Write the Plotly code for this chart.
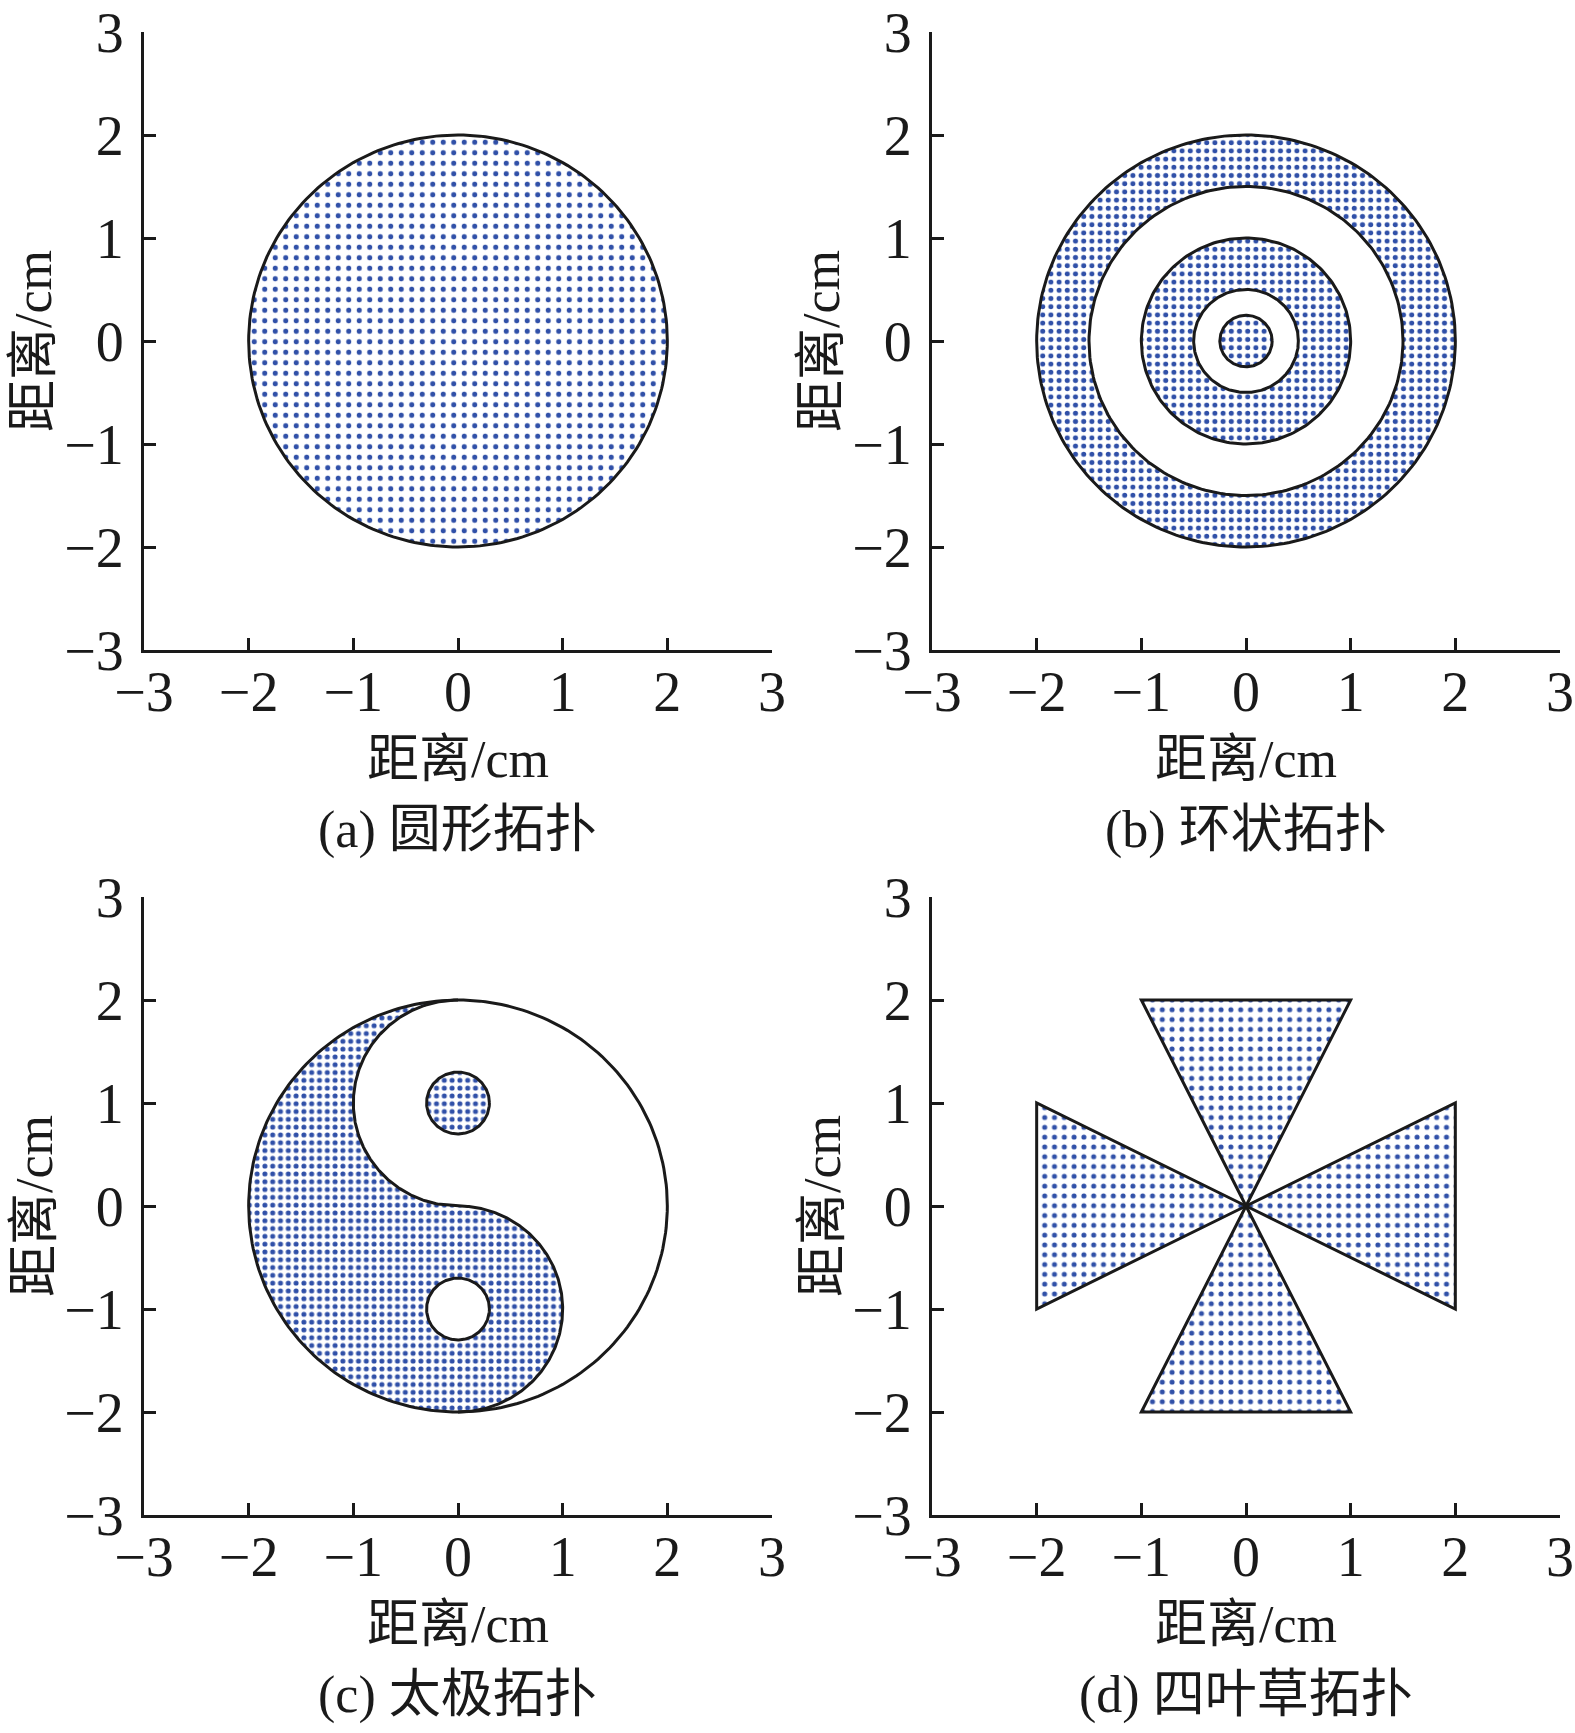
import numpy as np
import plotly.graph_objects as go
from plotly.subplots import make_subplots

# ---- data ----
TICKS = [-3, -2, -1, 0, 1, 2, 3]
AXIS_LABEL = "距离/cm"
CAPTIONS = ["(a) 圆形拓扑", "(b) 环状拓扑", "(c) 太极拓扑", "(d) 四叶草拓扑"]

DISC_R = 2.0                                   # (a) full disc
RINGS = [(1.5, 2.0), (0.5, 1.0), (0.0, 0.25)]  # (b) (inner, outer) radii
TAIJI_R = 2.0                                  # (c) outer circle
TAIJI_EYE_R = 0.3
TAIJI_EYE_DOT = (0.0, 1.0)                     # filled eye
TAIJI_EYE_HOLE = (0.0, -1.0)                   # empty eye
CLOVER = [                                     # (d) triangles, apex at origin
    [(0, 0), (-1, 2), (1, 2)],
    [(0, 0), (-1, -2), (1, -2)],
    [(0, 0), (-2, 1), (-2, -1)],
    [(0, 0), (2, 1), (2, -1)],
]
# sampling density of the node clouds (pattern tile size, px)
DOT_SPACING = [10.5, 8.2, 7.8, 9.8]

BLUE = "#3050a8"
FONT = "Liberation Serif, Noto Sans CJK SC"


def arc(cx, cy, r, a0, a1, n=241):
    t = np.radians(np.linspace(a0, a1, n))
    return list(cx + r * np.cos(t)), list(cy + r * np.sin(t))


def join(parts):
    xs, ys = [], []
    for px, py in parts:
        if xs:
            xs.append(None)
            ys.append(None)
        xs += px
        ys += py
    return xs, ys


fig = make_subplots(rows=2, cols=2)
cells = [(1, 1), (1, 2), (2, 1), (2, 2)]


def add_cloud(parts, k):
    xs, ys = join(parts)
    r, c = cells[k]
    s = DOT_SPACING[k]
    fig.add_trace(go.Scatter(
        x=xs, y=ys, mode="none", fill="toself", fillcolor="white",
        fillpattern=dict(shape=".", fgcolor=BLUE, bgcolor="white", size=s,
                         solidity=20.0 / (s * s), fillmode="replace"),
        hoverinfo="skip", showlegend=False), row=r, col=c)


def add_outline(parts, k):
    xs, ys = join(parts)
    r, c = cells[k]
    fig.add_trace(go.Scatter(
        x=xs, y=ys, mode="lines", line=dict(color="#1a1a1a", width=3),
        hoverinfo="skip", showlegend=False), row=r, col=c)


# (a) disc
add_cloud([arc(0, 0, DISC_R, 0, 360)], 0)
add_outline([arc(0, 0, DISC_R, 0, 360)], 0)

# (b) rings
parts = []
for rin, rout in RINGS:
    parts.append(arc(0, 0, rout, 0, 360))
    if rin > 0:
        parts.append(arc(0, 0, rin, 360, 0))
add_cloud(parts, 1)
circ = []
for rin, rout in RINGS:
    circ.append(arc(0, 0, rout, 0, 360))
    if rin > 0:
        circ.append(arc(0, 0, rin, 0, 360))
add_outline(circ, 1)

# (c) taiji
h = TAIJI_R / 2
bx1, by1 = arc(0, 0, TAIJI_R, 90, 270)
bx2, by2 = arc(0, -h, h, -90, 90)
bx3, by3 = arc(0, h, h, 270, 90)
body = (bx1 + bx2 + bx3, by1 + by2 + by3)
hole = arc(TAIJI_EYE_HOLE[0], TAIJI_EYE_HOLE[1], TAIJI_EYE_R, 360, 0)
eye = arc(TAIJI_EYE_DOT[0], TAIJI_EYE_DOT[1], TAIJI_EYE_R, 0, 360)
add_cloud([body, hole, eye], 2)
add_outline([
    arc(0, 0, TAIJI_R, 0, 360),
    (bx2 + bx3, by2 + by3),
    arc(TAIJI_EYE_HOLE[0], TAIJI_EYE_HOLE[1], TAIJI_EYE_R, 0, 360),
    eye,
], 2)

# (d) clover
tri = []
for t in CLOVER:
    pts = t + [t[0]]
    tri.append(([p[0] for p in pts], [p[1] for p in pts]))
add_cloud(tri, 3)
add_outline(tri, 3)

# ---- layout ----
W, H = 1575, 1733
xdom = [(144, 772), (932, 1560)]
ydom = [(32, 650), (897, 1515)]


def px_x(v):
    return v / W


def px_y(v):
    return 1 - v / H


axis_common = dict(
    range=[-3, 3], tickmode="array", tickvals=TICKS, showgrid=False,
    zeroline=False, showline=True, linecolor="#1a1a1a", linewidth=3,
    ticks="inside", ticklen=12, tickwidth=3, tickcolor="#1a1a1a",
    tickfont=dict(family=FONT, size=56, color="#1a1a1a"),
    automargin=False, ticklabeloverflow="allow",
)

for k, (r, c) in enumerate(cells):
    x0, x1 = xdom[c - 1]
    y0, y1 = ydom[r - 1]
    fig.update_xaxes(domain=[px_x(x0), px_x(x1)], ticklabelstandoff=-9,
                     row=r, col=c, **axis_common)
    fig.update_yaxes(domain=[px_y(y1), px_y(y0)], ticklabelstandoff=6,
                     row=r, col=c, **axis_common)

    cx = (x0 + x1) / 2
    cy = (y0 + y1) / 2
    fig.add_annotation(text=AXIS_LABEL, x=px_x(cx), y=px_y(y1 + 109),
                       xref="paper", yref="paper", showarrow=False,
                       xanchor="center", yanchor="middle",
                       font=dict(family=FONT, size=52, color="#1a1a1a"))
    fig.add_annotation(text=CAPTIONS[k], x=px_x(cx), y=px_y(y1 + 180),
                       xref="paper", yref="paper", showarrow=False,
                       xanchor="center", yanchor="middle",
                       font=dict(family=FONT, size=52, color="#1a1a1a"))
    fig.add_annotation(text=AXIS_LABEL, x=px_x(x0 - 110), y=px_y(cy),
                       xref="paper", yref="paper", showarrow=False,
                       xanchor="center", yanchor="middle", textangle=-90,
                       font=dict(family=FONT, size=52, color="#1a1a1a"))

fig.update_layout(
    width=W, height=H,
    margin=dict(l=0, r=0, t=0, b=0),
    paper_bgcolor="white", plot_bgcolor="white",
    showlegend=False,
)

fig.write_html("out.html",
               config={"displayModeBar": False},
               post_script="document.body.style.margin='0';"
                           "document.body.style.overflow='hidden';")
